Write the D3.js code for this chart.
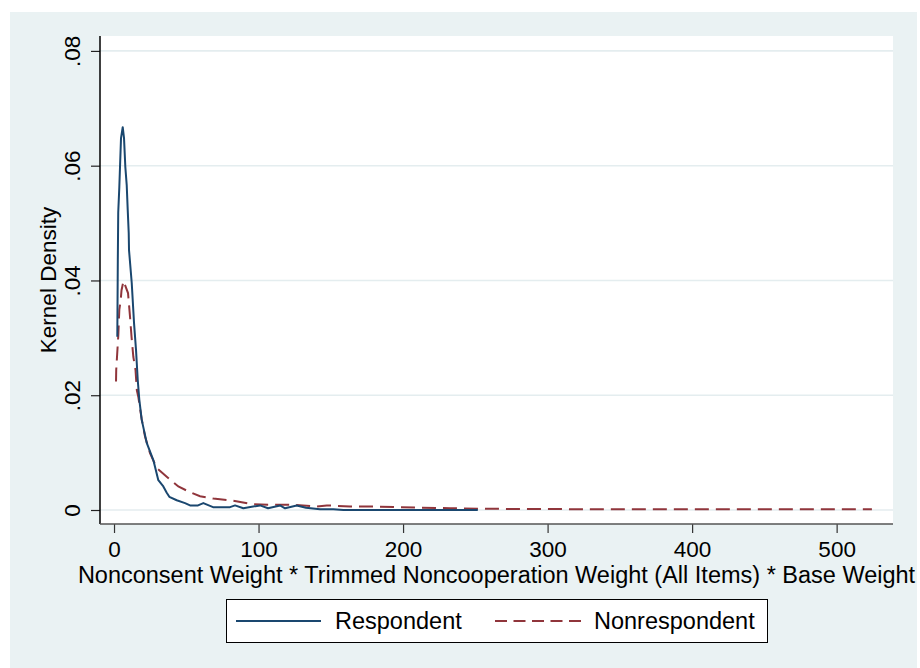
<!DOCTYPE html>
<html>
<head>
<meta charset="utf-8">
<script src="https://cdn.jsdelivr.net/npm/d3@7"></script>
<style>
  html, body { margin: 0; padding: 0; background: #ffffff; }
  svg { display: block; font-family: "Liberation Sans", Arial, sans-serif; }
</style>
</head>
<body>
<svg id="chart" width="920" height="668"></svg>
<script>
// Kernel density estimates of the combined weight, by response status
const respondentX = [2.28, 2.49, 2.63, 2.91, 3.67, 4.15, 4.84, 6.02, 6.92, 7.82, 8.79, 9.48, 10.17, 10.38, 12.25, 13.84, 15.22, 16.40, 17.51, 19.17, 22.63, 27.20, 30.66, 34.12, 36.47, 38.27, 43.39, 49.13, 52.60, 58.13, 61.80, 68.51, 80.28, 83.74, 89.48, 101.04, 106.57, 114.88, 118.34, 126.44, 132.87, 142.56, 151.76, 158.68, 200.0, 251.70];
const respondentY = [0.0302, 0.0383, 0.0436, 0.0518, 0.0563, 0.0598, 0.0648, 0.0667, 0.0648, 0.0598, 0.0566, 0.0523, 0.0483, 0.0453, 0.0396, 0.0326, 0.0279, 0.0227, 0.0192, 0.0157, 0.0117, 0.0087, 0.0052, 0.0041, 0.0030, 0.0023, 0.0017, 0.0012, 0.0008, 0.0008, 0.0012, 0.0005, 0.0005, 0.0008, 0.0003, 0.0008, 0.0003, 0.0008, 0.0003, 0.0008, 0.0004, 0.00012, 0.00012, 0.00002, 0.00002, 0.00002];

const nonrespondentX = [1.38, 1.52, 2.98, 3.67, 4.64, 5.19, 6.57, 9.69, 11.07, 12.11, 13.36, 14.88, 15.78, 16.82, 19.03, 21.45, 24.91, 29.55, 36.47, 44.50, 52.60, 59.52, 68.72, 82.56, 96.40, 110.24, 124.08, 140.28, 147.20, 163.32, 181.80, 197.92, 232.53, 262.49, 326.6, 327.3, 328.0, 524.4];
const nonrespondentY = [0.0224, 0.0244, 0.0305, 0.0349, 0.0366, 0.0383, 0.0399, 0.0378, 0.0337, 0.0302, 0.0267, 0.0244, 0.0209, 0.0197, 0.0160, 0.0128, 0.0099, 0.0073, 0.0058, 0.0041, 0.0031, 0.0024, 0.0020, 0.0016, 0.0010, 0.0009, 0.0009, 0.0006, 0.0008, 0.0006, 0.0006, 0.0005, 0.0003, 0.0002, 0.00014, 0.0002, 0.00014, 0.00012];

const xTicks = [0, 100, 200, 300, 400, 500];
const yTicks = [0, 0.02, 0.04, 0.06, 0.08];
const seriesNames = ["Respondent", "Nonrespondent"];

const xTitle = "Nonconsent Weight * Trimmed Noncooperation Weight (All Items) * Base Weight";
const yTitle = "Kernel Density";

const svg = d3.select("#chart");
const W = 920, H = 668;
const plot = { left: 100, right: 893, top: 36, bottom: 524 };
const tickFont = 22.5;
const titleFont = 23.5;

const navy = "#1a476f";
const maroon = "#90353b";
const bg = "#eaf2f3";

// Graph region background
svg.append("rect").attr("x", 10).attr("y", 12).attr("width", 907).attr("height", H - 12).attr("fill", bg);
// Plot region
svg.append("rect").attr("x", plot.left).attr("y", plot.top)
  .attr("width", plot.right - plot.left).attr("height", plot.bottom - plot.top).attr("fill", "#ffffff");

const x = d3.scaleLinear().domain([-9.7, 539]).range([plot.left, plot.right]);
const y = d3.scaleLinear().domain([-0.00244, 0.0826]).range([plot.bottom, plot.top]);

// Horizontal grid lines
svg.append("g").selectAll("line").data(yTicks).join("line")
  .attr("x1", plot.left).attr("x2", plot.right)
  .attr("y1", d => y(d)).attr("y2", d => y(d))
  .attr("stroke", "#e4edef").attr("stroke-width", 1.6);

// Density curves
const line = d3.line().x(d => x(d[0])).y(d => y(d[1]));
const resp = respondentX.map((v, i) => [v, respondentY[i]]);
const nonresp = nonrespondentX.map((v, i) => [v, nonrespondentY[i]]);

svg.append("path").datum(nonresp).attr("d", line)
  .attr("fill", "none").attr("stroke", maroon).attr("stroke-width", 2)
  .attr("stroke-dasharray", "14,7");
svg.append("path").datum(resp).attr("d", line)
  .attr("fill", "none").attr("stroke", navy).attr("stroke-width", 2)
  .attr("stroke-linejoin", "round");

// Y axis
const fmtY = d => d === 0 ? "0" : d3.format(".2f")(d).replace(/^0/, "");
const yAxis = svg.append("g").attr("transform", `translate(${plot.left},0)`)
  .call(d3.axisLeft(y).tickValues(yTicks).tickFormat(fmtY).tickSize(9).tickSizeOuter(0));
yAxis.select(".domain").remove();
yAxis.append("line").attr("x1", 0).attr("x2", 0).attr("y1", plot.top).attr("y2", plot.bottom)
  .attr("stroke", "#000").attr("stroke-width", 1.5);
yAxis.selectAll(".tick line").attr("stroke", "#222").attr("stroke-width", 1.2);
yAxis.selectAll(".tick text")
  .attr("x", null).attr("dy", null)
  .attr("transform", "translate(-20,0) rotate(-90)")
  .attr("text-anchor", "middle")
  .attr("fill", "#000")
  .style("font-size", tickFont + "px")
  .style("font-family", "'Liberation Sans', Arial, sans-serif");

// X axis
const xAxis = svg.append("g").attr("transform", `translate(0,${plot.bottom})`)
  .call(d3.axisBottom(x).tickValues(xTicks).tickFormat(d3.format("d")).tickSize(9).tickSizeOuter(0));
xAxis.select(".domain").remove();
xAxis.append("line").attr("x1", plot.left).attr("x2", plot.right).attr("y1", 0).attr("y2", 0)
  .attr("stroke", "#555").attr("stroke-width", 1.6);
xAxis.selectAll(".tick line").attr("stroke", "#333").attr("stroke-width", 1.2);
xAxis.selectAll(".tick text")
  .attr("y", 33).attr("dy", null)
  .attr("fill", "#000")
  .style("font-size", tickFont + "px")
  .style("font-family", "'Liberation Sans', Arial, sans-serif");

// Axis titles
svg.append("text").attr("x", (plot.left + plot.right) / 2).attr("y", 583)
  .attr("text-anchor", "middle").style("font-size", titleFont + "px").text(xTitle);
svg.append("text").attr("transform", `translate(56,${(plot.top + plot.bottom) / 2}) rotate(-90)`)
  .attr("text-anchor", "middle").style("font-size", tickFont + "px").text(yTitle);

// Legend
const legend = svg.append("g");
legend.append("rect").attr("x", 226.5).attr("y", 599.5).attr("width", 541).attr("height", 43)
  .attr("fill", "#fff").attr("stroke", "#000").attr("stroke-width", 1);
const keys = [
  { name: seriesNames[0], color: navy, dash: null, x0: 236, x1: 321, tx: 335 },
  { name: seriesNames[1], color: maroon, dash: "12,6.5", x0: 495, x1: 581, tx: 594 }
];
keys.forEach(k => {
  legend.append("line").attr("x1", k.x0).attr("x2", k.x1).attr("y1", 621).attr("y2", 621)
    .attr("stroke", k.color).attr("stroke-width", 2).attr("stroke-dasharray", k.dash);
  legend.append("text").attr("x", k.tx).attr("y", 629).style("font-size", titleFont + "px").text(k.name);
});
</script>
</body>
</html>
